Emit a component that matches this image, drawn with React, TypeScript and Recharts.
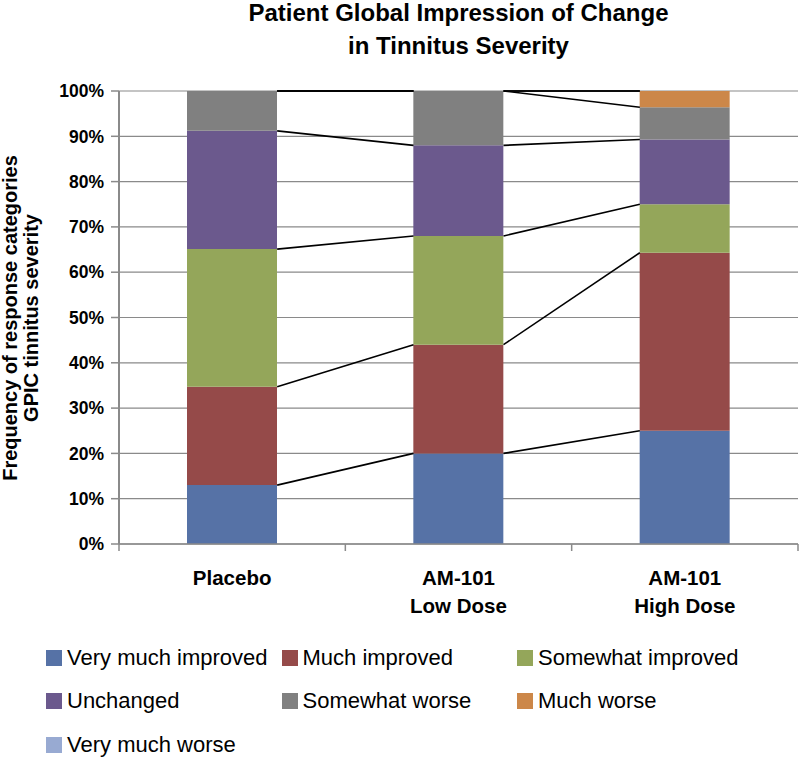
import { Bar, BarChart, CartesianGrid, Label, Legend, ReferenceLine, XAxis, YAxis } from "recharts";

// groups on the x axis (each label line separately)
const groupLabels: string[][] = [["Placebo"], ["AM-101", "Low Dose"], ["AM-101", "High Dose"]];

// percent of patients per response category, one value per group
const veryMuchImproved = [13.0, 20.0, 25.0];
const muchImproved = [21.7, 24.0, 39.3];
const somewhatImproved = [30.4, 24.0, 10.7];
const unchanged = [26.1, 20.0, 14.3];
const somewhatWorse = [8.8, 12.0, 7.1];
const muchWorse = [0, 0, 3.6];
const veryMuchWorse = [0, 0, 0];

const seriesNames = [
    "Very much improved",
    "Much improved",
    "Somewhat improved",
    "Unchanged",
    "Somewhat worse",
    "Much worse",
    "Very much worse",
];
const seriesValues = [veryMuchImproved, muchImproved, somewhatImproved, unchanged, somewhatWorse, muchWorse, veryMuchWorse];
const seriesColors = ["#5672A6", "#954A49", "#94A65A", "#6B598D", "#808080", "#CC8749", "#98AAD2"];

const yTicks = [0, 10, 20, 30, 40, 50, 60, 70, 80, 90, 100];

const FONT = '"Liberation Sans", Arial, sans-serif';
const CHART_W = 800;
const CHART_H = 762;
const MARGIN = { top: 91, right: 2, bottom: 158, left: 0 };
const Y_AXIS_W = 119;
const X_AXIS_H = 60;
const BAR_PX = 90;
const GRID = "#8a8a8a";

// bars sit on a numeric axis, group i centred at i + 0.5
const unitPx = (CHART_W - MARGIN.left - MARGIN.right - Y_AXIS_W) / groupLabels.length;
const halfBar = BAR_PX / 2 / unitPx;

const keys = seriesNames.map((_, k) => `s${k}`);
const data = groupLabels.map((_, i) => {
    const row: Record<string, number> = { pos: i + 0.5 };
    seriesValues.forEach((vals, k) => {
        row[keys[k]] = vals[i];
    });
    return row;
});

// cumulative tops for the series lines
const cumulative = seriesValues.map((_, k) =>
    groupLabels.map((__, i) => seriesValues.slice(0, k + 1).reduce((s, v) => s + v[i], 0))
);

const xTicks: number[] = [];
for (let i = 0; i <= groupLabels.length; i++) {
    xTicks.push(i);
    if (i < groupLabels.length) xTicks.push(i + 0.5);
}

function GroupTick(props: any) {
    const { x, y, payload } = props;
    const v = payload.value as number;
    if (Number.isInteger(v)) {
        return <line x1={x} x2={x} y1={y} y2={y + 7} stroke={GRID} strokeWidth={1.5} />;
    }
    const lines = groupLabels[Math.floor(v)];
    return (
        <text x={x} y={y} textAnchor="middle" fontFamily={FONT} fontSize={20.5} fontWeight="bold" fill="#000">
            {lines.map((t, j) => (
                <tspan key={j} x={x} y={y + 41 + j * 28}>
                    {t}
                </tspan>
            ))}
        </text>
    );
}

function YTitle() {
    return (
        <text transform="translate(17, 318) rotate(-90)" textAnchor="middle" fontFamily={FONT} fontSize={20} fontWeight="bold" fill="#000">
            <tspan x={0} y={0}>Frequency of response categories</tspan>
            <tspan x={0} y={20.6}>GPIC tinnitus severity</tspan>
        </text>
    );
}

function LegendBox() {
    return (
        <div
            style={{
                display: "grid",
                gridTemplateColumns: "235.5px 235.5px 235.5px",
                gridAutoRows: "43.5px",
                fontFamily: FONT,
                fontSize: 22,
                color: "#000",
            }}
        >
            {seriesNames.map((name, k) => (
                <div key={name} style={{ display: "flex", alignItems: "center", whiteSpace: "nowrap" }}>
                    <span style={{ width: 16, height: 16, background: seriesColors[k], marginRight: 5, flex: "none" }} />
                    <span>{name}</span>
                </div>
            ))}
        </div>
    );
}

export default function App() {
    return (
        <div style={{ position: "absolute", left: 0, top: 0, width: CHART_W, height: CHART_H, background: "#fff" }}>
            <BarChart width={CHART_W} height={CHART_H} data={data} margin={MARGIN}>
                <CartesianGrid vertical={false} stroke={GRID} strokeWidth={1.2} />
                <XAxis
                    type="number"
                    dataKey="pos"
                    domain={[0, groupLabels.length]}
                    ticks={xTicks}
                    interval={0}
                    height={X_AXIS_H}
                    tickLine={false}
                    tickSize={0}
                    tickMargin={0}
                    axisLine={{ stroke: GRID, strokeWidth: 1.5 }}
                    tick={<GroupTick />}
                />
                <YAxis
                    width={Y_AXIS_W}
                    domain={[0, 100]}
                    ticks={yTicks}
                    interval={0}
                    tickFormatter={(v) => `${v}%`}
                    tickSize={8}
                    tickMargin={7}
                    axisLine={{ stroke: GRID, strokeWidth: 2 }}
                    tickLine={{ stroke: GRID, strokeWidth: 1.5 }}
                    tick={{ fill: "#000", fontSize: 17.5, fontWeight: "bold", fontFamily: FONT }}
                >
                    <Label content={<YTitle />} />
                </YAxis>
                {keys.map((key, k) => (
                    <Bar key={key} dataKey={key} name={seriesNames[k]} stackId="a" fill={seriesColors[k]} barSize={BAR_PX} isAnimationActive={false} />
                ))}
                {cumulative.map((tops, k) =>
                    tops.slice(0, -1).map((top, i) => (
                        <ReferenceLine
                            key={`sl-${k}-${i}`}
                            segment={[
                                { x: i + 0.5 + halfBar, y: top },
                                { x: i + 1.5 - halfBar, y: tops[i + 1] },
                            ]}
                            stroke="#000"
                            strokeWidth={1.6}
                            ifOverflow="visible"
                        />
                    ))
                )}
                <Legend
                    layout="horizontal"
                    verticalAlign="middle"
                    align="center"
                    wrapperStyle={{ left: 46, top: 636, width: 720 }}
                    content={() => <LegendBox />}
                />
            </BarChart>
            <svg width={CHART_W} height={70} style={{ position: "absolute", left: 0, top: 0, pointerEvents: "none" }}>
                <text x={458.5} textAnchor="middle" fontFamily={FONT} fontSize={24} fontWeight="bold" fill="#000">
                    <tspan x={458.5} y={21}>Patient Global Impression of Change</tspan>
                    <tspan x={458.5} y={54}>in Tinnitus Severity</tspan>
                </text>
            </svg>
        </div>
    );
}
